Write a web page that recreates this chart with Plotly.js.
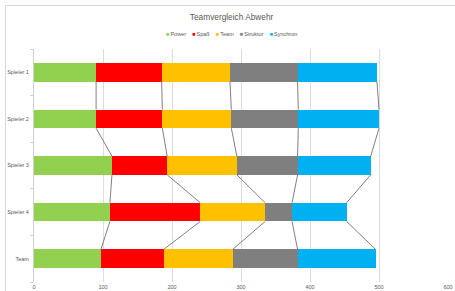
<!DOCTYPE html>
<html>
<head>
<meta charset="utf-8">
<script src="https://cdn.plot.ly/plotly-3.0.1.min.js"></script>
<style>
  html, body { margin: 0; padding: 0; background: #ffffff; }
  #chart { width: 455px; height: 291px; position: absolute; left: 0; top: 0; }
  #frame { position: absolute; left: 5px; top: 5px; width: 470px; height: 300px;
           border: 1px solid #d9d9d9; pointer-events: none; }
</style>
</head>
<body>
<div id="chart"></div>
<div id="frame"></div>
<script>
// ---- data ----
const categories = ['Spieler 1', 'Spieler 2', 'Spieler 3', 'Spieler 4', 'Team'];
const seriesNames = ['Power', 'Spaß', 'Team', 'Struktur', 'Synchron'];
const power    = [90, 90, 113, 110, 97];
const spass    = [95, 96, 80, 131, 91];
const team     = [99, 100, 101, 94, 100];
const struktur = [98, 97, 88, 39, 94];
const synchron = [115, 117, 106, 79, 113];
const xTicks = [0, 100, 200, 300, 400, 500, 600];

// ---- styling ----
const colors = ['#92D050', '#FF0000', '#FFC000', '#7F7F7F', '#00B0F0'];
const seriesValues = [power, spass, team, struktur, synchron];
const barWidth = 0.4;
const yIdx = categories.map((c, i) => i);
const FONT = 'Liberation Sans, Arial, sans-serif';

const traces = [];
seriesValues.forEach((vals, s) => {
  traces.push({
    type: 'bar', orientation: 'h', name: seriesNames[s],
    x: vals, y: yIdx, width: barWidth,
    marker: { color: colors[s], line: { width: 0 } },
    showlegend: false, hoverinfo: 'x+name'
  });
});

// series lines connecting cumulative ends between adjacent bars
const cum = categories.map((c, i) => {
  let acc = 0;
  return seriesValues.map(v => (acc += v[i]));
});
seriesValues.forEach((vals, s) => {
  const lx = [], ly = [];
  for (let i = 0; i < categories.length - 1; i++) {
    lx.push(cum[i][s], cum[i + 1][s], null);
    ly.push(yIdx[i] + barWidth / 2, yIdx[i + 1] - barWidth / 2, null);
  }
  traces.push({
    type: 'scatter', mode: 'lines', x: lx, y: ly,
    line: { color: '#7f7f7f', width: 1 },
    showlegend: false, hoverinfo: 'skip', connectgaps: false
  });
});

// compact legend as text
const legendText = seriesNames.map((n, i) =>
  '<span style="color:' + colors[i] + '">■</span>&#8201;' + n).join('&nbsp;&nbsp;&nbsp;&nbsp;');

const layout = {
  width: 455, height: 291,
  margin: { l: 34, r: 7, t: 49, b: 9 },
  paper_bgcolor: 'rgba(0,0,0,0)',
  plot_bgcolor: 'rgba(0,0,0,0)',
  barmode: 'stack',
  showlegend: false,
  font: { family: FONT, color: '#595959', size: 6 },
  title: {
    text: 'Teamvergleich Abwehr',
    font: { family: FONT, size: 8.3, color: '#595959' },
    x: 0.509, xanchor: 'center', xref: 'container',
    y: 1 - 16.7 / 291, yanchor: 'middle', yref: 'container'
  },
  xaxis: {
    range: [0, 600], tickvals: xTicks, ticktext: xTicks.map(String),
    showgrid: true, gridcolor: '#dcdcdc', gridwidth: 1,
    zeroline: false, showline: false, ticks: '',
    tickfont: { size: 5.5, color: '#595959', family: FONT },
    fixedrange: true
  },
  yaxis: {
    range: [categories.length - 0.5, -0.5],
    tickvals: yIdx, ticktext: categories,
    showgrid: false, zeroline: false,
    showline: true, linecolor: '#d0d0d0', linewidth: 1,
    ticks: '', ticklabelstandoff: 3,
    tickfont: { size: 5.5, color: '#595959', family: FONT },
    minor: { tick0: 0.5, dtick: 1, ticks: 'outside', ticklen: 3,
             tickcolor: '#d0d0d0', tickwidth: 1, showgrid: false },
    fixedrange: true
  },
  annotations: [{
    text: legendText, xref: 'paper', yref: 'paper',
    x: (231.5 - 34) / 414, y: 1 + (49 - 34.3) / 233,
    xanchor: 'center', yanchor: 'middle', showarrow: false,
    font: { family: FONT, size: 5.5, color: '#595959' }
  }]
};

Plotly.newPlot('chart', traces, layout, { displayModeBar: false, staticPlot: true });
</script>
</body>
</html>
